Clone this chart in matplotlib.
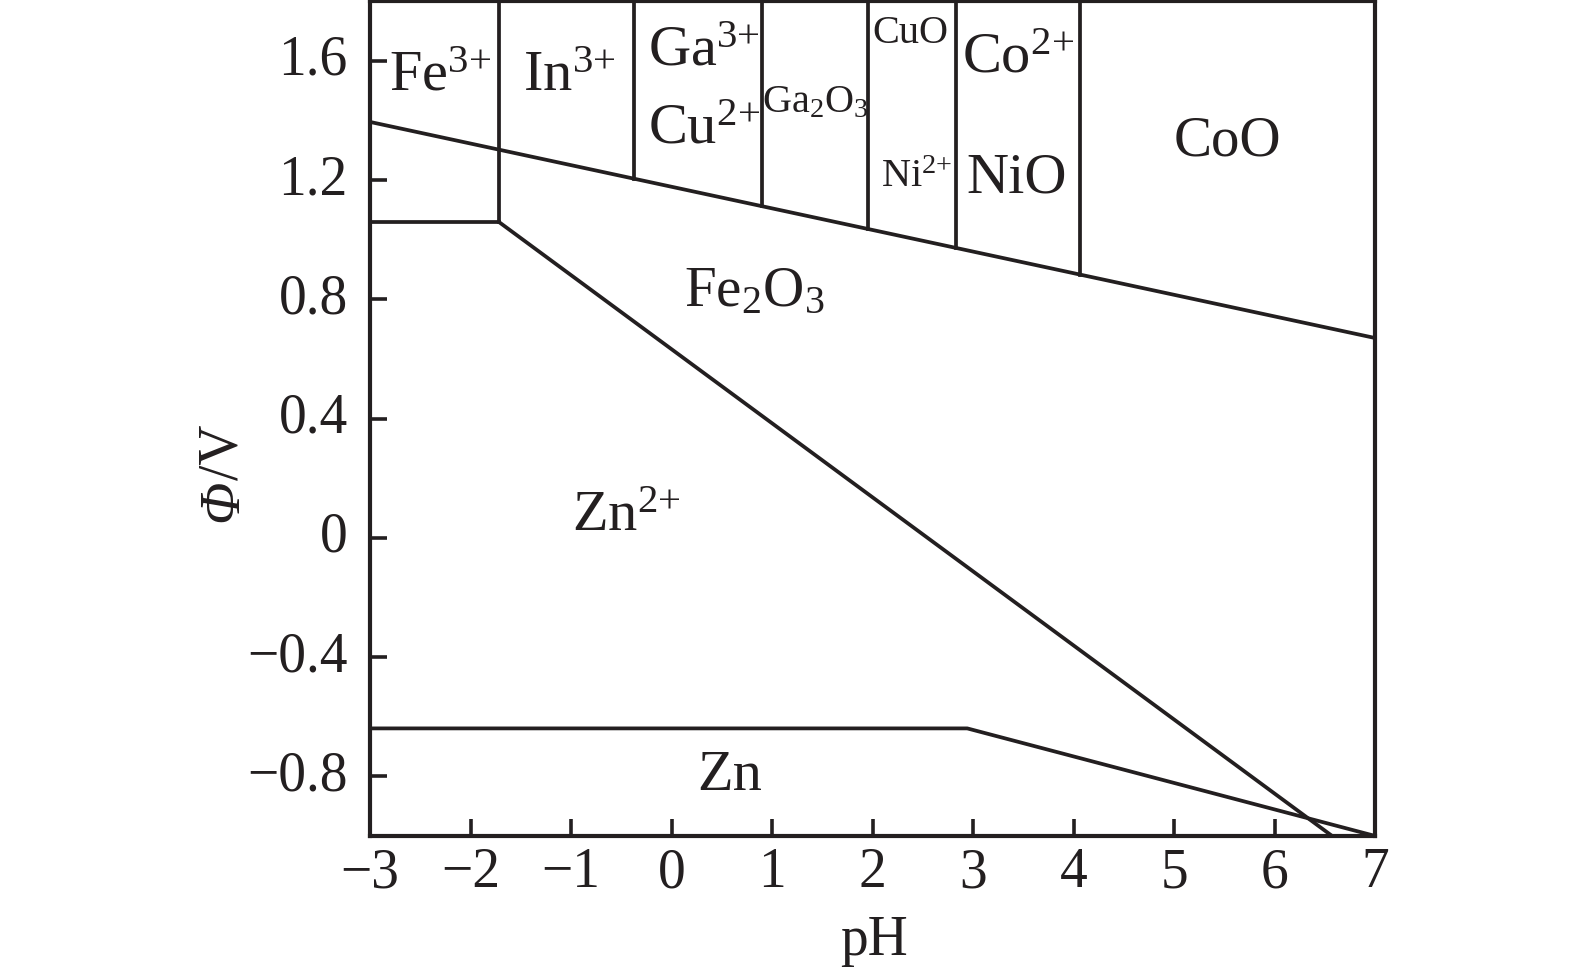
import numpy as np
import matplotlib
matplotlib.use("Agg")
import matplotlib.pyplot as plt

plt.rcParams['font.family'] = ['Liberation Serif', 'DejaVu Serif']
plt.rcParams['mathtext.fontset'] = 'custom'
plt.rcParams['mathtext.rm'] = 'Liberation Serif'
plt.rcParams['mathtext.it'] = 'Liberation Serif:italic'
plt.rcParams['mathtext.bf'] = 'Liberation Serif:bold'

# ---- data ----
upper_ph = [-3.0, 7.0]
upper_phi = [1.395, 0.67]
fe_h_ph = [-3.0, -1.72]
fe_h_phi = [1.06, 1.06]
diag_ph = [-1.72, 6.57]
diag_phi = [1.06, -1.0]
zn_ph = [-3.0, 2.94, 7.0]
zn_phi = [-0.639, -0.639, -1.0]
vert_ph = [-0.37, 0.90, 1.955, 2.83, 4.06]
fe_vert_ph = -1.72
top_phi = 1.8

labels = [
    (r'Fe$^{3{+}}$', -2.30, 1.546, 42),
    (r'In$^{3{+}}$', -1.02, 1.546, 42),
    (r'Ga$^{3{+}}$', 0.32, 1.63, 42),
    (r'Cu$^{2{+}}$', 0.32, 1.37, 42),
    (r'Ga$_{2}$O$_{3}$', 1.43, 1.46, 29),
    ('CuO', 2.37, 1.69, 29),
    (r'Ni$^{2{+}}$', 2.44, 1.21, 29),
    (r'Co$^{2{+}}$', 3.45, 1.607, 42),
    ('NiO', 3.43, 1.204, 42),
    ('CoO', 5.53, 1.328, 41),
    (r'Fe$_{2}$O$_{3}$', 0.82, 0.824, 41),
    (r'Zn$^{2{+}}$', -0.45, 0.069, 42),
    ('Zn', 0.58, -0.80, 42),
]

xticks = [-3, -2, -1, 0, 1, 2, 3, 4, 5, 6, 7]
yticks = [-0.8, -0.4, 0, 0.4, 0.8, 1.2, 1.6]
ytick_labels = ['\u22120.8', '\u22120.4', '0', '0.4', '0.8', '1.2', '1.6']
xtick_labels = [('\u2212' + str(-v)) if v < 0 else str(v) for v in xticks]

# ---- figure ----
fig = plt.figure(figsize=(15.75, 9.71), dpi=100)
ax = fig.add_axes([0.2349, 0.139, 0.8733 - 0.2349, 1.0 - 0.139 - 0.0012])
lw = 2.7
col = '#231f20'

ax.plot(upper_ph, upper_phi, color=col, lw=lw)
ax.plot(fe_h_ph, fe_h_phi, color=col, lw=lw)
ax.plot(diag_ph, diag_phi, color=col, lw=lw)
ax.plot(zn_ph, zn_phi, color=col, lw=lw)
ax.plot([fe_vert_ph, fe_vert_ph], [fe_h_phi[0], top_phi], color=col, lw=lw)
for v in vert_ph:
    y0 = np.interp(v, upper_ph, upper_phi)
    ax.plot([v, v], [y0, top_phi], color=col, lw=lw)

for txt, x, y, fs in labels:
    ax.text(x, y, txt, fontsize=fs, ha='center', va='center', color=col)

ax.set_xlim(-3, 7)
ax.set_ylim(-1.0, 1.8)
ax.set_xticks(xticks)
ax.set_xticklabels(xtick_labels)
ax.set_yticks(yticks)
ax.set_yticklabels(ytick_labels)
ax.tick_params(direction='in', length=12, width=2.6, labelsize=40, colors=col)
ax.tick_params(axis='y', pad=16)
ax.tick_params(axis='x', pad=8)
for l in ax.get_yticklabels():
    l.set_verticalalignment('center')
for s in ax.spines.values():
    s.set_linewidth(3.0)
    s.set_color(col)

fig.text(874 / 1575, 1 - 941 / 971, 'pH', fontsize=40, ha='center', va='center', color=col)
ysplit = 1 - 480 / 971
fig.text(223 / 1575, ysplit, '\u03a6', fontsize=40, style='italic', ha='center', va='top',
         rotation=90, color=col)
fig.text(223 / 1575, ysplit, '/V', fontsize=40, ha='center', va='bottom',
         rotation=90, color=col)

fig.savefig('out.png', dpi=100)
